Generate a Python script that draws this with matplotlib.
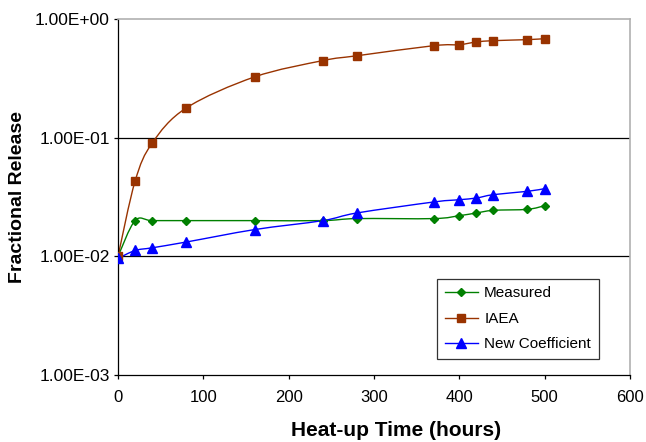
import numpy as np
import matplotlib.pyplot as plt
from matplotlib.path import Path
from matplotlib.patches import PathPatch
from matplotlib.lines import Line2D

plt.rcParams['font.family'] = ['Liberation Sans', 'DejaVu Sans']

# data
hours = [0, 20, 40, 80, 160, 240, 280, 370, 400, 420, 440, 480, 500]
measured = [0.0100, 0.0200, 0.0200, 0.0200, 0.0200, 0.0200, 0.0208, 0.0208,
            0.0220, 0.0232, 0.0244, 0.0249, 0.0267]
iaea = [0.0100, 0.0430, 0.0900, 0.178, 0.325, 0.446, 0.490, 0.596,
        0.608, 0.640, 0.657, 0.670, 0.683]
new_coef = [0.0096, 0.0112, 0.0118, 0.0132, 0.0168, 0.0200, 0.0232, 0.0287,
            0.0300, 0.0310, 0.0331, 0.0353, 0.0372]

series = [
    ("Measured", measured, "#008000", "D", 4.5),
    ("IAEA", iaea, "#993300", "s", 5.5),
    ("New Coefficient", new_coef, "#0000FF", "^", 6.5),
]


def smooth_path(x, y):
    """Excel-style smoothed line: cubic bezier through the points, built in log-y space."""
    x = np.asarray(x, float)
    ly = np.log10(y)
    verts = [(x[0], y[0])]
    codes = [Path.MOVETO]
    n = len(x)
    for i in range(n - 1):
        x0, y0 = (x[i - 1], ly[i - 1]) if i > 0 else (x[i], ly[i])
        x1, y1 = x[i], ly[i]
        x2, y2 = x[i + 1], ly[i + 1]
        x3, y3 = (x[i + 2], ly[i + 2]) if i + 2 < n else (x2, y2)
        c1 = (x1 + (x2 - x0) / 6, y1 + (y2 - y0) / 6)
        c2 = (x2 - (x3 - x1) / 6, y2 - (y3 - y1) / 6)
        verts += [(c1[0], 10 ** c1[1]), (c2[0], 10 ** c2[1]), (x2, 10 ** y2)]
        codes += [Path.CURVE4] * 3
    return Path(verts, codes)


fig = plt.figure(figsize=(6.46, 4.42), dpi=100)
ax = fig.add_axes([0.1827, 0.1516, 0.7923, 0.8054])
ax.set_yscale('log')
ax.set_xlim(0, 600)
ax.set_ylim(1e-3, 1)

for yv in [1e-2, 1e-1]:
    ax.axhline(yv, color='black', lw=0.9, zorder=1)

handles = []
for name, vals, col, mk, ms in series:
    ax.add_patch(PathPatch(smooth_path(hours, vals), fill=False, edgecolor=col,
                           lw=1.0, zorder=2))
    ax.plot(hours, vals, ls='none', marker=mk, color=col, ms=ms, zorder=3)
    handles.append(Line2D([], [], color=col, lw=1.0, marker=mk, ms=ms, label=name))

ax.set_xticks(range(0, 601, 100))
ax.set_yticks([1e-3, 1e-2, 1e-1, 1])
ax.set_yticklabels(["1.00E-03", "1.00E-02", "1.00E-01", "1.00E+00"])
ax.yaxis.set_minor_locator(plt.NullLocator())
ax.tick_params(axis='both', direction='out', length=3, width=0.9, color='black')
ax.tick_params(axis='x', labelsize=12, pad=8)
ax.tick_params(axis='y', labelsize=12.5, pad=3)

for s in ['left', 'bottom']:
    ax.spines[s].set_color('black')
    ax.spines[s].set_linewidth(0.9)
for s in ['top', 'right']:
    ax.spines[s].set_color('#b0b0b0')
    ax.spines[s].set_linewidth(1.2)

ax.set_xlabel("Heat-up Time (hours)", fontsize=15, fontweight='bold', va='top')
ax.xaxis.set_label_coords(0.543, -0.128)
ax.set_ylabel("Fractional Release", fontsize=14, fontweight='bold', va='center')
ax.yaxis.set_label_coords(-0.197, 0.5)

leg = ax.legend(handles=handles, loc='lower right', bbox_to_anchor=(0.939, 0.045),
                fontsize=11, frameon=True, fancybox=False, handlelength=2.2,
                borderpad=0.5, labelspacing=0.75, handletextpad=0.4,
                borderaxespad=0)
leg.get_frame().set_edgecolor('black')
leg.get_frame().set_linewidth(0.9)

plt.savefig("out.png", dpi=100)
